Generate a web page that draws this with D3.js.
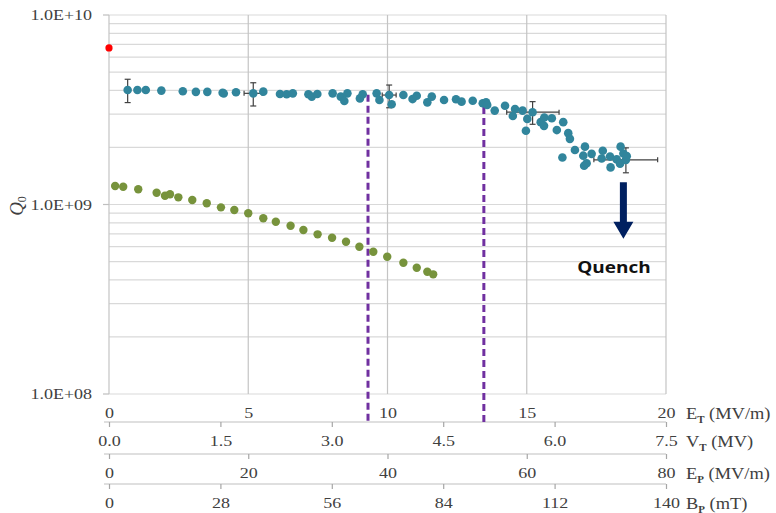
<!DOCTYPE html>
<html><head><meta charset="utf-8">
<script src="https://cdn.jsdelivr.net/npm/d3@7"></script>
<style>body{margin:0;background:#fff}</style></head>
<body><svg id="c" width="776" height="513"></svg>
<script>
// ---- data ----
const blueE=[0.67,1.02,1.32,1.88,2.65,3.12,3.53,4.08,4.12,4.56,5.18,5.54,6.14,6.38,6.60,7.16,7.28,7.48,8.03,8.32,8.45,8.56,9.01,9.11,9.61,9.71,10.06,10.15,10.57,10.90,11.05,11.43,11.59,12.03,12.46,12.66,13.06,13.42,13.54,13.58,13.85,14.22,14.50,14.58,14.85,14.97,15.02,15.21,15.50,15.62,15.63,15.90,16.08,16.28,16.31,16.49,16.55,16.73,17.03,17.06,17.09,17.15,17.33,17.69,17.73,17.99,18.01,18.23,18.35,18.37,18.47,18.56,18.59];
const blueQ=[4.02,4.02,4.02,3.99,3.96,3.93,3.93,3.89,3.85,3.91,3.86,3.94,3.83,3.82,3.86,3.82,3.71,3.83,3.86,3.71,3.52,3.86,3.63,3.82,3.86,3.56,3.78,3.38,3.78,3.60,3.75,3.46,3.71,3.56,3.59,3.49,3.53,3.42,3.46,3.35,3.13,3.32,2.93,3.19,3.13,2.45,2.83,3.07,2.72,2.60,2.88,2.85,2.47,1.77,2.72,2.38,2.22,1.94,1.81,1.60,2.02,1.65,1.85,1.75,1.92,1.79,1.57,1.73,1.64,2.02,1.86,1.72,1.80].map(v=>v*1e9);
const greenE=[0.22,0.51,1.05,1.71,2.01,2.19,2.49,2.99,3.51,4.02,4.50,5.00,5.54,5.99,6.52,6.98,7.49,8.01,8.51,8.99,9.49,9.99,10.57,11.05,11.43,11.64];
const greenQ=[1.252,1.241,1.203,1.154,1.113,1.132,1.091,1.056,1.015,0.966,0.935,0.899,0.846,0.811,0.773,0.733,0.696,0.668,0.636,0.599,0.563,0.530,0.493,0.464,0.442,0.428].map(v=>v*1e9);
const redE=[0]; const redQ=[6.7e9];
// error bars
const errE=[0.67,5.18,10.06,15.21,18.56];
const errQ=[4.02e9,3.86e9,3.78e9,3.07e9,1.72e9];
const errQlo=[3.45e9,3.31e9,3.24e9,2.65e9,1.47e9];
const errQhi=[4.58e9,4.39e9,4.27e9,3.49e9,1.99e9];
const errElo=[0.67,4.85,9.81,14.28,17.41];
const errEhi=[0.67,5.50,10.31,16.16,19.70];
// annotations
const dashE=[9.30,13.46]; const dashQ=[3.79e9,3.27e9];
const arrowE=18.47, arrowQtop=1.31e9, arrowQtip=6.6e8;
const quenchE=18.13, quenchQ=4.35e8;
// tick labels
const yTicks=[1e8,1e9,1e10]; const yLabels=["1.0E+08","1.0E+09","1.0E+10"];
const etTicks=[0,5,10,15,20];
const vtTicks=[0,1.5,3.0,4.5,6.0,7.5];
const epTicks=[0,20,40,60,80];
const bpTicks=[0,28,56,84,112,140];

// ---- layout ----
const svg=d3.select("#c");
const L=109,R=666,T=15,B=394;
const x=d3.scaleLinear([0,20],[L,R]);
const y=d3.scaleLog([1e8,1e10],[B,T]);
const SX=1.2;
const FONT="'Liberation Serif','Times New Roman',serif";
const TXT="#404040";

// grid
const minor=[];
for(let e=8;e<10;e++) for(let k=1;k<=9;k++) minor.push(k*Math.pow(10,e));
minor.push(1e10);
svg.append("g").selectAll("line").data(minor).join("line")
  .attr("x1",L).attr("x2",R).attr("y1",d=>y(d)).attr("y2",d=>y(d))
  .attr("stroke","#d9d9d9").attr("stroke-width",1.2);
svg.append("g").selectAll("line").data(etTicks).join("line")
  .attr("x1",d=>x(d)).attr("x2",d=>x(d)).attr("y1",T).attr("y2",B)
  .attr("stroke","#c4c4c4").attr("stroke-width",1.2);
// y ticks
svg.append("g").selectAll("line").data(yTicks).join("line")
  .attr("x1",L-6).attr("x2",L).attr("y1",d=>y(d)).attr("y2",d=>y(d))
  .attr("stroke","#bfbfbf").attr("stroke-width",1.2);
svg.append("g").selectAll("text").data(yTicks).join("text")
  .attr("transform",d=>`translate(92,${y(d)}) scale(${SX},1)`)
  .attr("dy","0.35em").attr("text-anchor","end")
  .attr("font-family",FONT).attr("font-size",15).attr("fill",TXT)
  .text((d,i)=>yLabels[i]);
// Q0 label
const ql=svg.append("text").attr("transform","translate(23,206) rotate(-90)")
  .attr("text-anchor","middle").attr("font-family",FONT).attr("font-size",19).attr("fill",TXT);
ql.append("tspan").attr("font-style","italic").text("Q");
ql.append("tspan").attr("font-size",12).attr("dy",3).text("0");

// bottom axes
function bottomAxis(scale,ticks,fmt,lineY,labelY,showLine){
  if(showLine){
    svg.append("line").attr("x1",104).attr("x2",R).attr("y1",lineY).attr("y2",lineY)
      .attr("stroke","#bfbfbf").attr("stroke-width",1.2);
  }
  const g=svg.append("g").attr("transform",`translate(0,${lineY})`)
    .call(d3.axisBottom(scale).tickValues(ticks).tickFormat(fmt).tickSize(showLine?5:0).tickSizeOuter(0));
  g.select(".domain").remove();
  g.selectAll(".tick line").attr("stroke","#a6a6a6").attr("stroke-width",1.2);
  g.selectAll(".tick text").attr("y",labelY-lineY).attr("dy","0.35em")
    .attr("transform",`scale(${SX},1)`)
    .attr("font-family",FONT).attr("font-size",15).attr("fill",TXT);
}
bottomAxis(x,etTicks,d3.format("d"),B,413,false);
bottomAxis(d3.scaleLinear([0,7.5],[L,R]),vtTicks,d3.format(".1f"),422,441,true);
bottomAxis(d3.scaleLinear([0,80],[L,R]),epTicks,d3.format("d"),454,473,true);
bottomAxis(d3.scaleLinear([0,140],[L,R]),bpTicks,d3.format("d"),484,503,true);

// axis titles
function title(main,sub,rest,ty){
  const t=svg.append("text").attr("transform",`translate(686,${ty}) scale(1.15,1)`)
    .attr("dy","0.35em").attr("font-family",FONT).attr("font-size",16).attr("fill",TXT);
  t.append("tspan").text(main);
  t.append("tspan").attr("font-size",9.5).attr("font-weight","bold").attr("dy",4).text(sub);
  t.append("tspan").attr("dy",-4).text(" "+rest);
}
title("E","T","(MV/m)",413);
title("V","T","(MV)",441);
title("E","P","(MV/m)",473);
title("B","P","(mT)",503);

// dashed lines
svg.append("g").selectAll("line").data(dashE).join("line")
  .attr("x1",d=>x(d)).attr("x2",d=>x(d)).attr("y1",(d,i)=>y(dashQ[i])).attr("y2",422)
  .attr("stroke","#7030a0").attr("stroke-width",3).attr("stroke-dasharray","7,4");

// green series
svg.append("g").selectAll("circle").data(greenE).join("circle")
  .attr("cx",d=>x(d)).attr("cy",(d,i)=>y(greenQ[i])).attr("r",4.2).attr("fill","#77933c");
// error bars
const eg=svg.append("g").attr("stroke","#404040").attr("stroke-width",1.2);
errE.forEach((e,i)=>{
  const cx=x(e), cy=y(errQ[i]);
  eg.append("line").attr("x1",cx).attr("x2",cx).attr("y1",y(errQlo[i])).attr("y2",y(errQhi[i]));
  eg.append("line").attr("x1",cx-3).attr("x2",cx+3).attr("y1",y(errQlo[i])).attr("y2",y(errQlo[i]));
  eg.append("line").attr("x1",cx-3).attr("x2",cx+3).attr("y1",y(errQhi[i])).attr("y2",y(errQhi[i]));
  if(errEhi[i]>errElo[i]){
    eg.append("line").attr("x1",x(errElo[i])).attr("x2",x(errEhi[i])).attr("y1",cy).attr("y2",cy);
    eg.append("line").attr("x1",x(errElo[i])).attr("x2",x(errElo[i])).attr("y1",cy-2.5).attr("y2",cy+2.5);
    eg.append("line").attr("x1",x(errEhi[i])).attr("x2",x(errEhi[i])).attr("y1",cy-2.5).attr("y2",cy+2.5);
  }
});
// blue series
svg.append("g").selectAll("circle").data(blueE).join("circle")
  .attr("cx",d=>x(d)).attr("cy",(d,i)=>y(blueQ[i])).attr("r",4.3).attr("fill","#31859c");
// red point
svg.append("g").selectAll("circle").data(redE).join("circle")
  .attr("cx",d=>x(d)).attr("cy",(d,i)=>y(redQ[i])).attr("r",3.6).attr("fill","#ff0000");

// arrow
const ax=x(arrowE), at=y(arrowQtop), ap=y(arrowQtip), hh=17, sw=3.5, hw=10;
svg.append("path").attr("fill","#002060")
  .attr("d",`M${ax-sw},${at}L${ax+sw},${at}L${ax+sw},${ap-hh}L${ax+hw},${ap-hh}L${ax},${ap}L${ax-hw},${ap-hh}L${ax-sw},${ap-hh}Z`);
svg.append("text").attr("transform",`translate(${x(quenchE)},${y(quenchQ)}) scale(1.15,1)`)
  .attr("text-anchor","middle").attr("font-family","'Open Sans','Liberation Sans',sans-serif")
  .attr("font-weight","bold").attr("font-size",16.5).attr("fill","#111").text("Quench");
</script></body></html>
